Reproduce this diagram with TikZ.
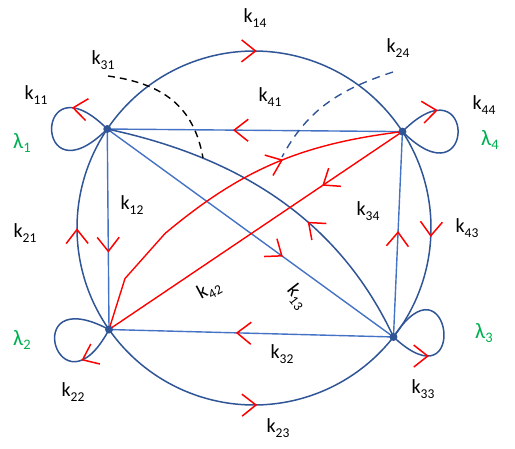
\documentclass[tikz,border=0pt]{standalone}
\usepackage{fontspec}
\setmainfont{Carlito}
\usetikzlibrary{decorations.markings}
\definecolor{dblue}{RGB}{47,85,151}
\definecolor{lblue}{RGB}{68,114,196}
\definecolor{rred}{RGB}{255,0,0}
\definecolor{lgreen}{RGB}{0,176,80}
\newcommand{\kk}[1]{k\raisebox{-0.22em}{\fontsize{13.5}{14}\selectfont #1}}
\newcommand{\lm}[1]{\textcolor{lgreen}{λ\raisebox{-0.2em}{\fontsize{14.5}{15}\selectfont #1}}}
\tikzset{
  chev/.style={postaction={decorate}, decoration={markings, mark=at position #1 with {\draw[rred, line width=1.5pt, solid] (-14pt,11pt) -- (0pt,0pt) -- (-14pt,-11pt);}}},
  arcline/.style={dblue, line width=1.5pt},
  chord/.style={lblue, line width=1.4pt},
  redline/.style={rred, line width=1.4pt},
  lab/.style={font=\fontsize{20}{22}\selectfont, inner sep=0pt},
  lamlab/.style={font=\fontsize{22}{24}\selectfont, inner sep=0pt},
}
\begin{document}
\begin{tikzpicture}[x=1pt,y=1pt]
\useasboundingbox (0,0) rectangle (515,448);
\coordinate (c) at (254,220);
\coordinate (n1) at ([shift={(146:177)}]c);
\coordinate (n4) at ([shift={(33:177)}]c);
\coordinate (n3) at ([shift={(-38:177)}]c);
\coordinate (n2) at ([shift={(215:177)}]c);
% circle arcs
\draw[arcline, chev=0.5] (n1) arc[start angle=146, end angle=33, radius=177];
\draw[arcline, chev=0.5] (n4) arc[start angle=33, end angle=-38, radius=177];
\draw[arcline, chev=0.52] (n2) arc[start angle=215, end angle=322, radius=177];
\draw[arcline, chev=0.5] (n2) arc[start angle=215, end angle=146, radius=177];
% loops
\draw[arcline, chev=0.27] (n1) .. controls +(135:105) and +(225:105) .. (n1);
\draw[arcline, chev=0.27] (n4) .. controls +(45:105) and +(-45:105) .. (n4);
\draw[arcline, chev=0.27] (n2) .. controls +(242:105) and +(152:105) .. (n2);
\draw[arcline, chev=0.27] (n3) .. controls +(-43:105) and +(57:105) .. (n3);
% straight chords
\draw[chord, chev=0.57] (n4) -- (n1);
\draw[chord, chev=0.61] (n1) -- (n2);
\draw[chord, chev=0.55] (n3) -- (n2);
\draw[chord, chev=0.51] (n3) -- (n4);
\draw[chord, chev=0.61] (n1) -- (n3);
% curved k31
\draw[arcline, chev=0.39] (n3) to[out=115, in=-12, looseness=0.95] (n1);
% red
\draw[redline, chev=0.27] (n4) -- (n2);
\draw[redline, chev=0.67] (n2) -- ++(16,51) -- ++(40,45) to[out=40, in=187] (n4);
% dashed pointers
\coordinate (s31) at (108,372);
\coordinate (e31) at (203,290);
\draw[black, line width=1.4pt, dash pattern=on 7pt off 5pt] (s31) to[out=-8, in=100, looseness=1.1] (e31);
\coordinate (s24) at (393,376);
\coordinate (e24) at (282,291);
\draw[dblue, line width=1.4pt, dash pattern=on 8pt off 6pt] (s24) to[out=198, in=62] (e24);
% dots
\fill[dblue] (n1) circle (4);
\fill[dblue] (n2) circle (4);
\fill[dblue] (n3) circle (4);
\fill[dblue] (n4) circle (4);
% labels
\node[lab] (l14) at (255,430) {\kk{14}};
\node[lab] (l31) at (103,388) {\kk{31}};
\node[lab] (l24) at (398,400) {\kk{24}};
\node[lab] (l11) at (36,353) {\kk{11}};
\node[lab] (l41) at (270,351) {\kk{41}};
\node[lab] (l44) at (484,343) {\kk{44}};
\node[lab] (l12) at (132,243) {\kk{12}};
\node[lab] (l21) at (25,215) {\kk{21}};
\node[lab] (l34) at (368,237) {\kk{34}};
\node[lab] (l43) at (467,220) {\kk{43}};
\node[lab, rotate=28] (l42) at (209,158) {\kk{42}};
\node[lab, rotate=-52] (l13) at (297,151) {\kk{13}};
\node[lab] (l22) at (73,56) {\kk{22}};
\node[lab] (l32) at (282,94) {\kk{32}};
\node[lab] (l23) at (278,20) {\kk{23}};
\node[lab] (l33) at (423,59) {\kk{33}};
\node[lamlab] (L1) at (22,305) {\lm{1}};
\node[lamlab] (L4) at (490,308) {\lm{4}};
\node[lamlab] (L2) at (22,108) {\lm{2}};
\node[lamlab] (L3) at (484,115) {\lm{3}};
\end{tikzpicture}
\end{document}
